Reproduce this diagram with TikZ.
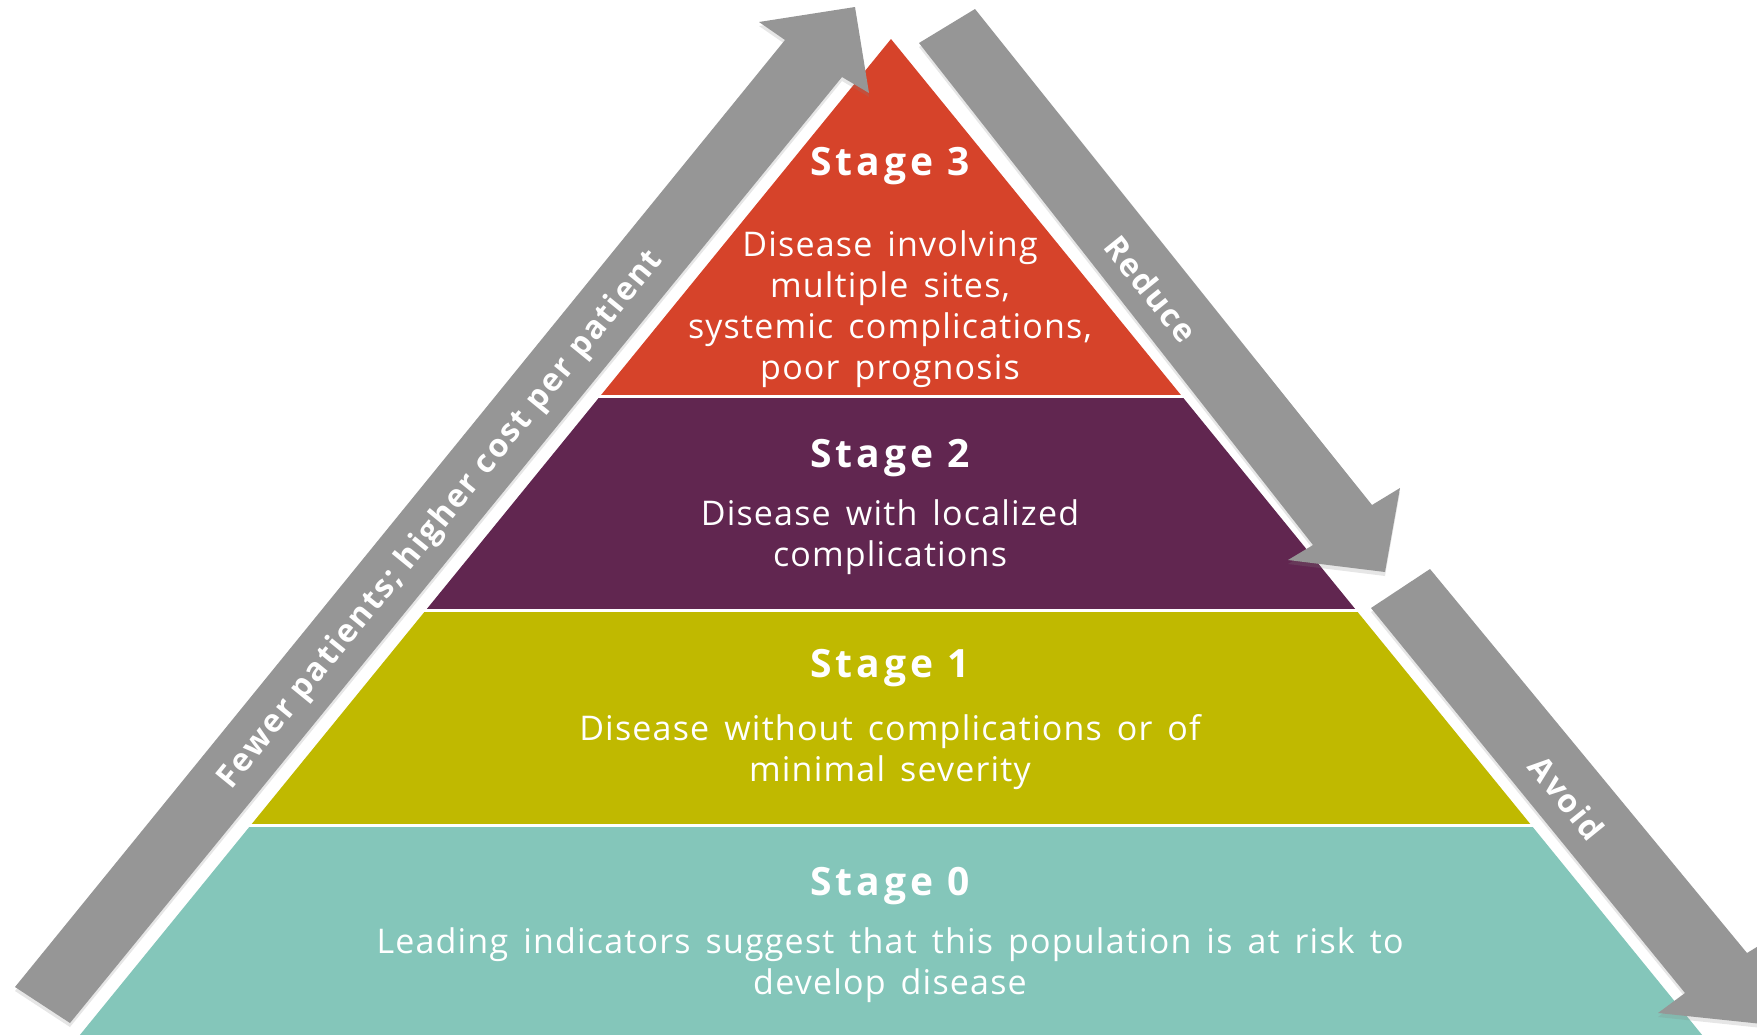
\documentclass[tikz,border=0pt]{standalone}
\usepackage{fontspec}
\setmainfont{Open Sans}
\newfontfamily\stagefont[LetterSpace=3.5,WordSpace=1.5]{Open Sans}
\newfontfamily\headfont[LetterSpace=10]{Open Sans}
\newfontfamily\arrowfont[LetterSpace=6]{Open Sans}
\usepackage{xcolor}
\usetikzlibrary{shadows}
\definecolor{stagered}{HTML}{D6432A}
\definecolor{stageplum}{HTML}{612650}
\definecolor{stageolive}{HTML}{C0B900}
\definecolor{stageteal}{HTML}{84C6BA}
\definecolor{arrowgray}{HTML}{969696}

\begin{document}
\begin{tikzpicture}[x=1pt,y=-1pt,
  bigarrow/.style={fill=arrowgray,
    drop shadow={shadow xshift=0pt,shadow yshift=-4pt,opacity=.2}},
  stagetitle/.style={text=white,font=\headfont\fontsize{39}{44}\selectfont\bfseries},
  stagetext/.style={text=white,align=center,font=\stagefont\fontsize{34}{41}\selectfont},
  arrowtext/.style={text=white,font=\arrowfont\fontsize{32}{36}\selectfont\bfseries}]
\useasboundingbox (0,0) rectangle (1757,1034);
\clip (0,0) rectangle (1757,1034);
\coordinate (apex) at (891,39);
\coordinate (baseL) at (75.8,1040);
\coordinate (baseR) at (1706.2,1040);
% stage 3
\scope
\clip (0,0) rectangle (1757,394);
\fill[stagered] (apex) -- (baseL) -- (baseR) -- cycle;
\endscope
% stage 2
\scope
\clip (0,398) rectangle (1757,608);
\fill[stageplum] (apex) -- (baseL) -- (baseR) -- cycle;
\endscope
% stage 1
\scope
\clip (0,612) rectangle (1757,823.5);
\fill[stageolive] (apex) -- (baseL) -- (baseR) -- cycle;
\endscope
% stage 0
\scope
\clip (0,827.5) rectangle (1757,1040);
\fill[stageteal] (apex) -- (baseL) -- (baseR) -- cycle;
\endscope
% up arrow
\fill[bigarrow] (15,987) -- (785,40) -- (759,22) -- (855,7)
  -- (869,93) -- (842,77) -- (70,1023) -- cycle;
% reduce arrow
\fill[bigarrow] (975,9) -- (1372,505) -- (1400,488) -- (1385,572)
  -- (1288,560) -- (1313,545) -- (919,43) -- cycle;
% avoid arrow
\fill[bigarrow] (1430,569) -- (1747,953) -- (1778,934) -- (1772,1025)
  -- (1658,1013) -- (1685,993) -- (1371,608) -- cycle;
% labels
\node[stagetitle] (s3title) at (890,166) {Stage 3};
\node[stagetext] (s3text) at (890,309) {Disease involving\\multiple sites,\\systemic complications,\\poor prognosis};
\node[stagetitle] (s2title) at (890,458) {Stage 2};
\node[stagetext] (s2text) at (890,537) {Disease with localized\\complications};
\node[stagetitle] (s1title) at (890,668) {Stage 1};
\node[stagetext] (s1text) at (890,752) {Disease without complications or of\\minimal severity};
\node[stagetitle] (s0title) at (890,886) {Stage 0};
\node[stagetext] (s0text) at (890,965) {Leading indicators suggest that this population is at risk to\\develop disease};
\node[arrowtext,rotate=50.8] (fewer) at (441,520) {Fewer patients; higher cost per patient};
\node[arrowtext,rotate=-51.2] (reduce) at (1151,289) {Reduce};
\node[arrowtext,rotate=-51] (avoid) at (1567,798) {Avoid};
\end{tikzpicture}
\end{document}
